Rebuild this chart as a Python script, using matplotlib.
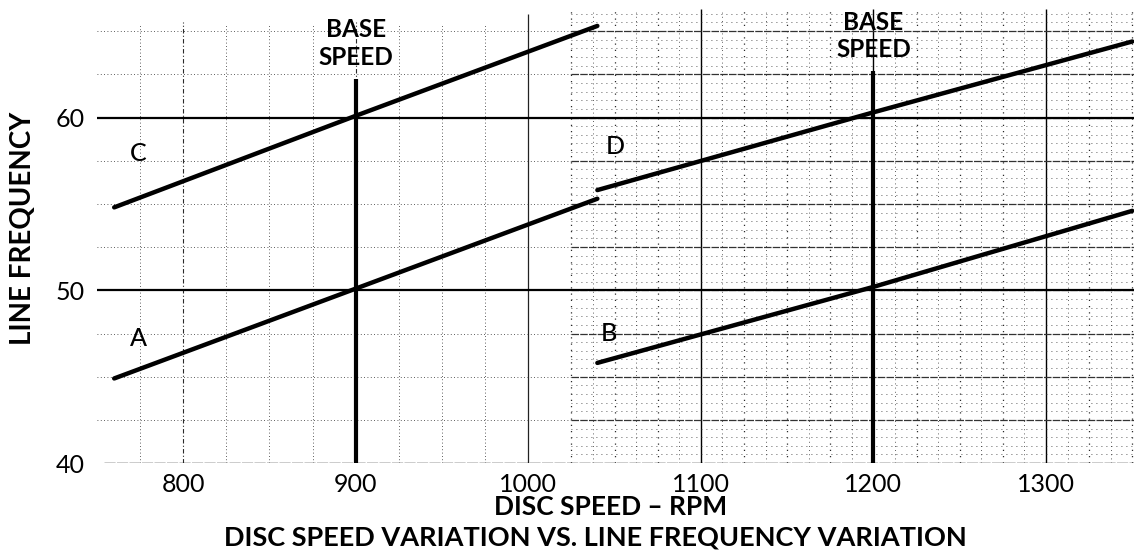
import numpy as np
import matplotlib
matplotlib.use("Agg")
import matplotlib.pyplot as plt

plt.rcParams['font.family'] = ['Lato', 'DejaVu Sans']

# curves: disc speed (rpm) -> line frequency (Hz)
speed_left = [760, 900, 1040]
freq_a = [44.9, 50.1, 55.3]
freq_c = [54.8, 60.1, 65.3]
speed_right = [1040, 1200, 1350]
freq_b = [45.8, 50.2, 54.6]
freq_d = [55.8, 60.3, 64.4]

curve_labels = ["A", "B", "C", "D"]
label_x = [769, 1042, 769, 1045]
label_y = [47.2, 47.5, 57.9, 58.3]

base_speeds = [900, 1200]
base_tops = [62.25, 62.7]
ref_freqs = [50, 60]

x_ticks = [800, 900, 1000, 1100, 1200, 1300]
y_ticks = [40, 50, 60]

fig = plt.figure(figsize=(11.34, 5.58), dpi=100)
ax = fig.add_axes([0.0794, 0.170, 0.9206, 0.830])
ax.set_xlim(746, 1351)
ax.set_ylim(40, 66.8)

# graph paper - coarse on the left, fine on the right
dot = (0, (1, 3))
gc = "#2a2a2a"
for x in np.arange(775, 1025, 25):
    if x == 1000:
        ax.vlines(x, 40, 66.0, colors="#222222", linewidth=0.9)
    elif x % 100 == 0:
        ax.vlines(x, 40, 65.5, colors=gc, linestyles=(0, (4, 2, 1, 2)), linewidth=0.8)
    else:
        ax.vlines(x, 40, 65.4, colors=gc, linestyles=dot, linewidth=0.6)
for y in np.arange(42.5, 66, 2.5):
    ax.hlines(y, 750, 1025, colors=gc, linestyles=dot, linewidth=0.6)
for x in np.arange(1025, 1351, 12.5):
    if x % 100 == 0:
        ax.vlines(x, 40, 66.3, colors="black", linewidth=1.0)
    else:
        ax.vlines(x, 40, 66.3, colors=gc, linestyles=(0, (1, 4)),
                  linewidth=0.9 if x % 25 == 0 else 0.6)
for y in np.arange(40.5, 66.5, 0.5):
    if abs(y / 2.5 - round(y / 2.5)) < 1e-6:
        ax.hlines(y, 1025, 1351, colors="#333333", linestyles=(0, (6, 1)), linewidth=0.9)
    else:
        ax.hlines(y, 1025, 1351, colors=gc, linestyles=(0, (1, 5)), linewidth=0.6)

# reference lines
for f in ref_freqs:
    ax.hlines(f, 750, 1351, colors="black", linewidth=1.6)
ax.hlines(40, 754, 1351, colors="black", linestyles=(0, (8, 1)), linewidth=1.0)
for s, top in zip(base_speeds, base_tops):
    ax.vlines(s, 40, top, colors="black", linewidth=3.0)
    ax.text(s, top + 0.55, "BASE\nSPEED", ha="center", va="bottom", fontsize=17.5,
            fontweight="bold", linespacing=1.25)

# the four curves
for xs, ys in [(speed_left, freq_a), (speed_left, freq_c),
               (speed_right, freq_b), (speed_right, freq_d)]:
    ax.plot(xs, ys, color="black", linewidth=3.2, solid_capstyle="round")

for t, x, y in zip(curve_labels, label_x, label_y):
    ax.text(x, y, t, ha="left", va="center", fontsize=18, fontweight="medium")

for sp in ax.spines.values():
    sp.set_visible(False)
ax.set_xticks(x_ticks)
ax.set_yticks(y_ticks)
ax.tick_params(length=0, labelsize=18, pad=7)
ax.tick_params(axis="y", pad=4)

fig.text(0.0205, 0.591, "LINE FREQUENCY", rotation=90, ha="center", va="center",
         fontsize=20, fontweight="bold")
fig.text(0.538, 0.091, "DISC SPEED \u2013 RPM", ha="center", va="center",
         fontsize=19, fontweight="bold")
fig.text(0.525, 0.036, "DISC SPEED VARIATION VS. LINE FREQUENCY VARIATION",
         ha="center", va="center", fontsize=19.5, fontweight="bold")

fig.savefig("out.png", dpi=100)
